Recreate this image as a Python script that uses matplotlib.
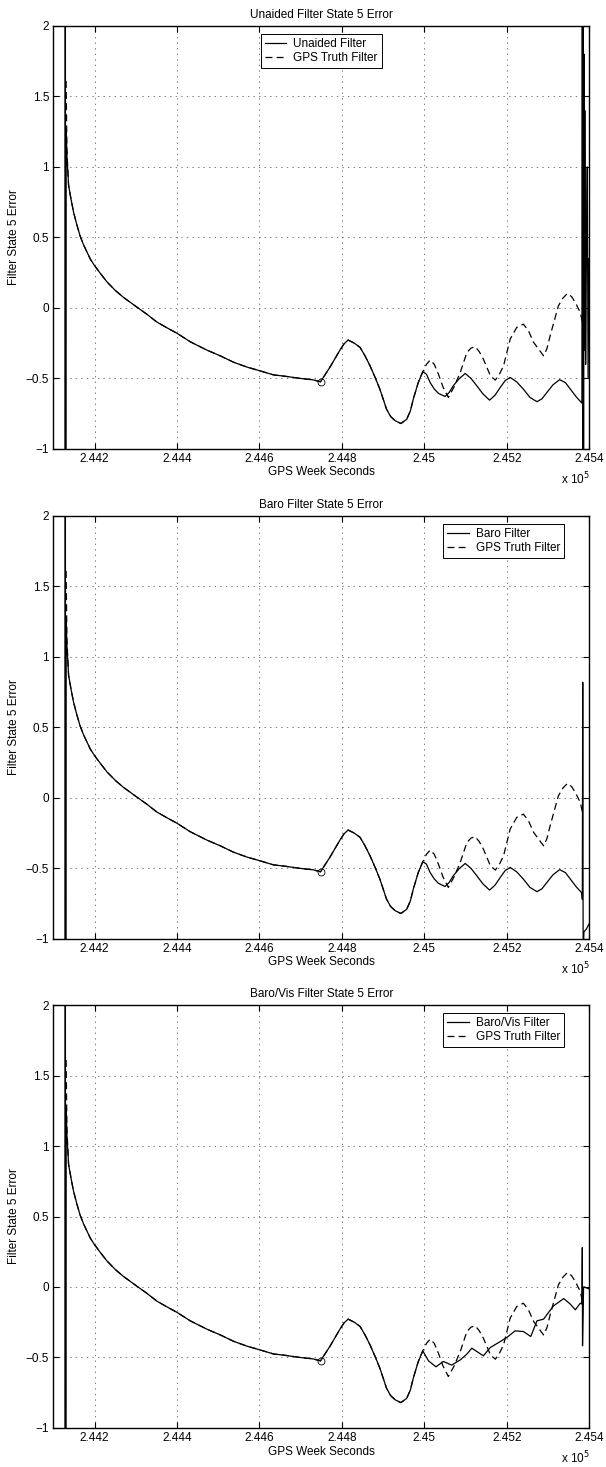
import numpy as np
import matplotlib.pyplot as plt
from matplotlib.ticker import FixedLocator, FuncFormatter

plt.rcParams['font.family'] = ['Liberation Sans', 'DejaVu Sans']
plt.rcParams['font.size'] = 8.5
plt.rcParams['lines.scale_dashes'] = False

# filter start transient (solid lines only)
spike_x = [244128, 244129, 244130]
spike_y = [-3.0, 4.0, -3.0]

# first samples after the transient
solid_head_x = [244131, 244133]
solid_head_y = [1.27, 1.08]
truth_head_x = [244131, 244133]
truth_head_y = [1.61, 1.12]

# shared decay until the aiding starts to differ
decay_x = [244137, 244143, 244149, 244157, 244165, 244173, 244181, 244190, 244200,
           244214, 244230, 244250, 244270, 244303, 244327, 244351, 244375, 244400,
           244432, 244473, 244505, 244537, 244570, 244594, 244634, 244663, 244699,
           244730, 244748, 244771, 244795, 244805, 244815, 244830, 244844, 244856,
           244868, 244880, 244892, 244908, 244918, 244929, 244943, 244957, 244966,
           244973, 244985, 244996]
decay_y = [0.87, 0.77, 0.68, 0.59, 0.51, 0.45, 0.40, 0.345, 0.30,
           0.245, 0.185, 0.125, 0.075, 0.005, -0.045, -0.10, -0.14, -0.18,
           -0.24, -0.30, -0.34, -0.385, -0.42, -0.44, -0.475, -0.485, -0.50,
           -0.51, -0.524, -0.42, -0.30, -0.255, -0.228, -0.25, -0.28, -0.34,
           -0.41, -0.49, -0.576, -0.717, -0.77, -0.80, -0.82, -0.79, -0.73,
           -0.647, -0.53, -0.453]

# marker where the curves are compared
mark_x = 244748
mark_y = -0.524

# unaided / baro oscillation after 2.45e5
osc_x = [245005, 245014, 245024, 245034, 245050, 245060, 245070, 245085, 245099,
         245113, 245127, 245142, 245158, 245171, 245184, 245196, 245208, 245224,
         245240, 245256, 245273, 245285, 245297, 245312, 245328, 245342, 245354,
         245368, 245382]
osc_y = [-0.47, -0.53, -0.575, -0.606, -0.628, -0.60, -0.552, -0.50, -0.465,
         -0.50, -0.552, -0.61, -0.654, -0.62, -0.564, -0.515, -0.493, -0.525,
         -0.576, -0.635, -0.665, -0.645, -0.60, -0.545, -0.509, -0.53, -0.576,
         -0.63, -0.675]

unaided_end_x = [245383, 245384, 245385, 245386, 245387, 245388, 245389, 245391,
                 245393, 245395, 245397, 245399, 245400]
unaided_end_y = [3.0, -1.5, 2.5, -1.3, 1.8, -0.3, 1.4, -0.4, 0.4, 1.0, -0.5, 0.35, -0.2]

baro_end_x = [245383, 245384, 245385, 245387, 245393, 245400]
baro_end_y = [-0.72, 0.82, -1.1, -0.95, -0.93, -0.89]

barovis_tail_x = [245010, 245028, 245046, 245066, 245087, 245103, 245115, 245131,
                  245143, 245160, 245180, 245200, 245220, 245240, 245258, 245273,
                  245289, 245313, 245338, 245354, 245366, 245378, 245382, 245383,
                  245383.5, 245386, 245388, 245400]
barovis_tail_y = [-0.524, -0.566, -0.528, -0.554, -0.517, -0.476, -0.434, -0.465,
                  -0.488, -0.429, -0.394, -0.358, -0.311, -0.316, -0.351, -0.24,
                  -0.228, -0.134, -0.082, -0.122, -0.162, -0.115, -0.12, 0.28,
                  -0.417, 0.0, 0.0, -0.015]

truth_tail_x = [245005, 245014, 245024, 245034, 245045, 245058, 245072, 245087,
                245103, 245113, 245123, 245133, 245143, 245160, 245172, 245182,
                245192, 245208, 245224, 245240, 245252, 245265, 245289, 245297,
                245305, 245325, 245336, 245347, 245357, 245366, 245378, 245384]
truth_tail_y = [-0.40, -0.37, -0.40, -0.47, -0.56, -0.635, -0.56, -0.457,
                -0.316, -0.285, -0.275, -0.31, -0.363, -0.481, -0.512, -0.47,
                -0.41, -0.221, -0.138, -0.115, -0.16, -0.245, -0.34, -0.29,
                -0.197, 0.015, 0.07, 0.103, 0.08, 0.039, -0.032, -0.11]

titles = ['Unaided Filter State 5 Error', 'Baro Filter State 5 Error',
          'Baro/Vis Filter State 5 Error']
labels = ['Unaided Filter', 'Baro Filter', 'Baro/Vis Filter']

x_ticks = np.arange(244200, 245401, 200)
y_ticks = np.arange(-1, 2.01, 0.5)

solid_x = [
    spike_x + solid_head_x + decay_x + osc_x + unaided_end_x,
    spike_x + solid_head_x + decay_x + osc_x + baro_end_x,
    spike_x + solid_head_x + decay_x + barovis_tail_x,
]
solid_y = [
    spike_y + solid_head_y + decay_y + osc_y + unaided_end_y,
    spike_y + solid_head_y + decay_y + osc_y + baro_end_y,
    spike_y + solid_head_y + decay_y + barovis_tail_y,
]
truth_x = truth_head_x + decay_x + truth_tail_x
truth_y = truth_head_y + decay_y + truth_tail_y

fig = plt.figure(figsize=(6.06, 14.67), dpi=100)
bottoms = [0.694, 0.360, 0.0266]
legend_loc = [('upper center', (0.5, 0.981)),
              ('upper right', (0.953, 0.981)),
              ('upper right', (0.953, 0.981))]

for i in range(3):
    ax = fig.add_axes([0.088, bottoms[i], 0.8845, 0.2883])
    ax.plot(solid_x[i], solid_y[i], 'k-', lw=0.9, label=labels[i])
    ax.plot(truth_x, truth_y, color='k', lw=0.9, linestyle=(0, (5, 3)),
            label='GPS Truth Filter')
    ax.plot([mark_x], [mark_y], 'o', mfc='none', mec='k', ms=5, mew=0.6)

    ax.set_xlim(244100, 245400)
    ax.set_ylim(-1, 2)
    ax.xaxis.set_major_locator(FixedLocator(x_ticks))
    ax.yaxis.set_major_locator(FixedLocator(y_ticks))
    ax.xaxis.set_major_formatter(FuncFormatter(lambda v, p: f'{v / 1e5:g}'))
    ax.yaxis.set_major_formatter(FuncFormatter(lambda v, p: f'{v:g}'.replace('-', '\u2212')))
    ax.tick_params(direction='in', length=4, width=0.8, top=True, right=True,
                   labelsize=8.5, pad=3)
    ax.grid(True, color='0.4', linestyle=(0, (1, 3)), lw=0.6)
    for s in ax.spines.values():
        s.set_linewidth(1.0)

    ax.set_title(titles[i], fontsize=8.5, pad=6)
    ax.set_xlabel('GPS Week Seconds', labelpad=1)
    ax.set_ylabel('Filter State 5 Error', labelpad=4)
    ax.text(1.0, -0.072, 'x 10$^5$', transform=ax.transAxes, ha='right', va='center',
            fontsize=8.5)

    loc, anchor = legend_loc[i]
    leg = ax.legend(loc=loc, bbox_to_anchor=anchor, fancybox=False, framealpha=1,
                    edgecolor='k', handlelength=1.8, handletextpad=0.6,
                    borderpad=0.35, labelspacing=0.15, borderaxespad=0)
    leg.get_frame().set_linewidth(0.7)

fig.savefig('out.png', dpi=100)
